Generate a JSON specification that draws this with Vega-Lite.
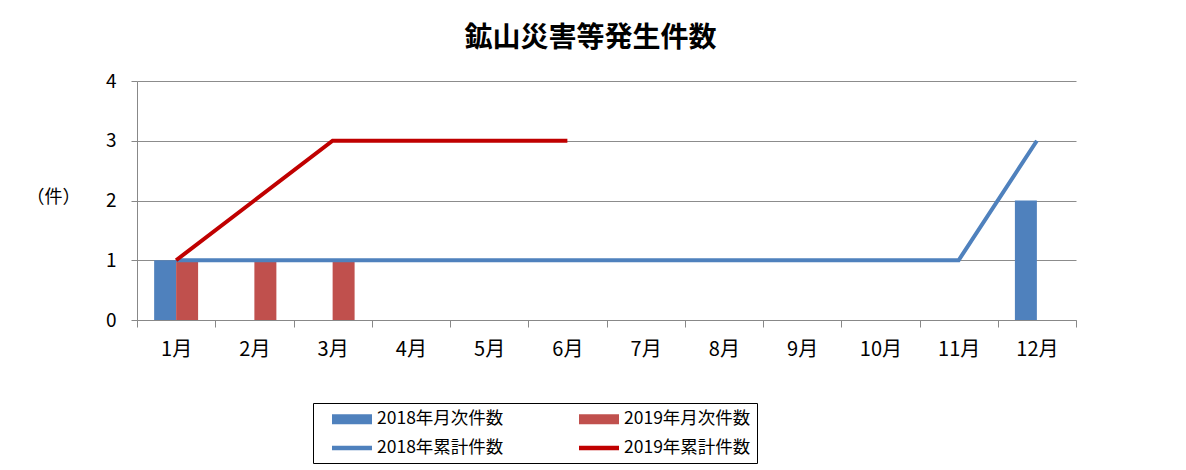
{
  "$schema": "https://vega.github.io/schema/vega-lite/v6.json",
  "width": 939,
  "height": 239,
  "autosize": {"type": "none"},
  "padding": {"left": 137, "top": 81, "right": 110, "bottom": 150},
  "background": "white",
  "title": {"text": "鉱山災害等発生件数", "fontSize": 28, "fontWeight": "bold", "font": "Noto Sans CJK JP", "color": "#000000", "anchor": "middle", "dx": -16, "offset": 19},
  "config": {
    "view": {"stroke": null},
    "font": "Noto Sans CJK JP",
    "axis": {"domainColor": "#888888", "tickColor": "#888888", "gridColor": "#8c8c8c", "labelColor": "#000000", "titleColor": "#000000", "labelFont": "Noto Sans CJK JP", "titleFont": "Noto Sans CJK JP"}
  },
  "datasets": {
    "monthly": [
      {"month": "1月", "series": "2018年月次件数", "count": 1},
      {"month": "2月", "series": "2018年月次件数", "count": 0},
      {"month": "3月", "series": "2018年月次件数", "count": 0},
      {"month": "4月", "series": "2018年月次件数", "count": 0},
      {"month": "5月", "series": "2018年月次件数", "count": 0},
      {"month": "6月", "series": "2018年月次件数", "count": 0},
      {"month": "7月", "series": "2018年月次件数", "count": 0},
      {"month": "8月", "series": "2018年月次件数", "count": 0},
      {"month": "9月", "series": "2018年月次件数", "count": 0},
      {"month": "10月", "series": "2018年月次件数", "count": 0},
      {"month": "11月", "series": "2018年月次件数", "count": 0},
      {"month": "12月", "series": "2018年月次件数", "count": 2},
      {"month": "1月", "series": "2019年月次件数", "count": 1},
      {"month": "2月", "series": "2019年月次件数", "count": 1},
      {"month": "3月", "series": "2019年月次件数", "count": 1},
      {"month": "4月", "series": "2019年月次件数", "count": 0},
      {"month": "5月", "series": "2019年月次件数", "count": 0},
      {"month": "6月", "series": "2019年月次件数", "count": 0}
    ],
    "cumulative": [
      {"month": "1月", "series": "2018年累計件数", "count": 1},
      {"month": "2月", "series": "2018年累計件数", "count": 1},
      {"month": "3月", "series": "2018年累計件数", "count": 1},
      {"month": "4月", "series": "2018年累計件数", "count": 1},
      {"month": "5月", "series": "2018年累計件数", "count": 1},
      {"month": "6月", "series": "2018年累計件数", "count": 1},
      {"month": "7月", "series": "2018年累計件数", "count": 1},
      {"month": "8月", "series": "2018年累計件数", "count": 1},
      {"month": "9月", "series": "2018年累計件数", "count": 1},
      {"month": "10月", "series": "2018年累計件数", "count": 1},
      {"month": "11月", "series": "2018年累計件数", "count": 1},
      {"month": "12月", "series": "2018年累計件数", "count": 3},
      {"month": "1月", "series": "2019年累計件数", "count": 1},
      {"month": "2月", "series": "2019年累計件数", "count": 2},
      {"month": "3月", "series": "2019年累計件数", "count": 3},
      {"month": "4月", "series": "2019年累計件数", "count": 3},
      {"month": "5月", "series": "2019年累計件数", "count": 3},
      {"month": "6月", "series": "2019年累計件数", "count": 3}
    ]
  },
  "layer": [
    {
      "data": {"name": "monthly"},
      "mark": {"type": "bar"},
      "encoding": {
        "x": {
          "field": "month", "type": "ordinal",
          "sort": ["1月", "2月", "3月", "4月", "5月", "6月", "7月", "8月", "9月", "10月", "11月", "12月"],
          "scale": {"paddingInner": 0, "paddingOuter": 0},
          "axis": {"title": null, "labelAngle": 0, "labelFontSize": 20, "tickBand": "extent", "tickSize": 7, "labelPadding": 12, "grid": false}
        },
        "xOffset": {
          "field": "series", "type": "nominal",
          "sort": ["2018年月次件数", "2019年月次件数"],
          "scale": {"paddingInner": 0, "paddingOuter": 0.78}
        },
        "y": {
          "field": "count", "type": "quantitative",
          "scale": {"domain": [0, 4]},
          "axis": {"title": "（件）", "titleAngle": 0, "titleX": -84, "titleY": 116, "titleAlign": "center", "titleBaseline": "middle", "titleFontSize": 18, "titleFontWeight": "normal", "values": [0, 1, 2, 3, 4], "format": "d", "labelFontSize": 19, "labelPadding": 15, "tickSize": 6, "grid": true}
        },
        "color": {
          "field": "series", "type": "nominal",
          "scale": {
            "domain": ["2018年月次件数", "2019年月次件数", "2018年累計件数", "2019年累計件数"],
            "range": ["#4F81BD", "#C0504D", "#4F81BD", "#C00000"]
          },
          "legend": {
            "orient": "none", "legendX": 176, "legendY": 322, "direction": "horizontal",
            "title": null, "columns": 2, "strokeColor": "#000000", "padding": 6,
            "rowPadding": 10, "columnPadding": 62, "symbolSize": 400, "symbolOffset": 23,
            "labelFontSize": 17.5, "labelOffset": 15, "labelColor": "#000000", "labelLimit": 300,
            "encode": {
              "symbols": {
                "update": {
                  "shape": {"signal": "(test(/累計/, datum.value) ? 'M-2,-0.22H2V0.22H-2Z' : 'M-2,-0.5H2V0.5H-2Z')"},
                  "strokeWidth": {"value": 0},
                  "fill": {"scale": "color", "field": "value"},
                  "fillOpacity": {"value": 1}
                }
              }
            }
          }
        }
      }
    },
    {
      "data": {"name": "cumulative"},
      "mark": {"type": "line", "strokeWidth": 4},
      "encoding": {
        "x": {"field": "month", "type": "ordinal", "sort": ["1月", "2月", "3月", "4月", "5月", "6月", "7月", "8月", "9月", "10月", "11月", "12月"], "bandPosition": 0.5},
        "y": {"field": "count", "type": "quantitative"},
        "color": {"field": "series", "type": "nominal"}
      }
    }
  ]
}
